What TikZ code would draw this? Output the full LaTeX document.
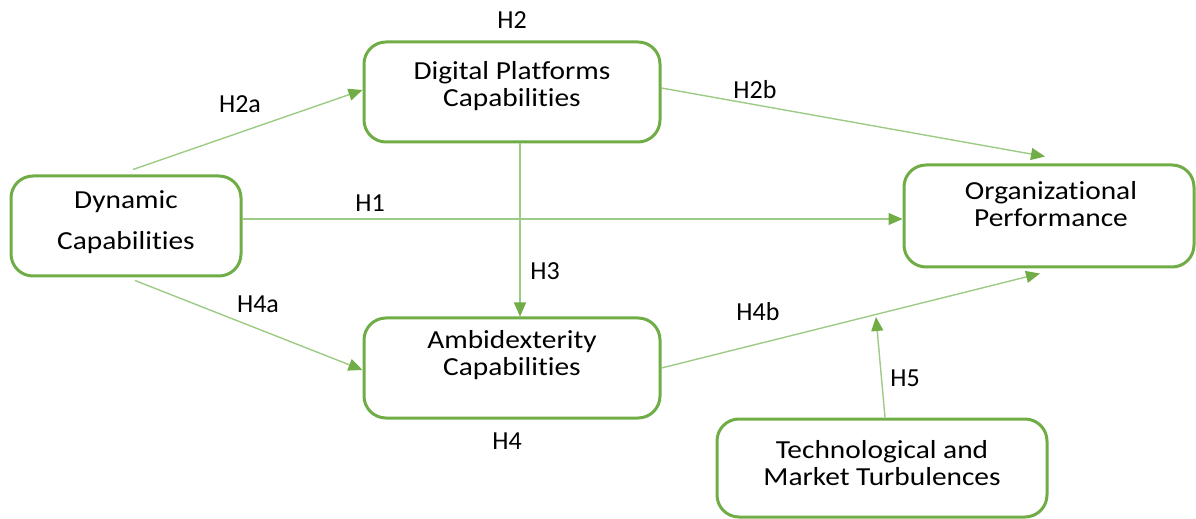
\documentclass[tikz,border=0pt]{standalone}
\usepackage{fontspec}
\setmainfont[Ligatures=NoCommon]{Carlito}
\newfontfamily\boxfont[Ligatures=NoCommon,FakeStretch=1.13]{Carlito}
\usetikzlibrary{arrows.meta,calc}
\definecolor{boxgreen}{HTML}{70AD47}
\definecolor{linegreen}{HTML}{9CCB86}
\begin{document}
\begin{tikzpicture}[x=0.5pt,y=-0.5pt,
  box/.style={draw=boxgreen,line width=1.5pt,rounded corners=11pt,fill=white,inner sep=0pt},
  txt/.style={align=center,font=\boxfont\fontsize{13}{13.5}\selectfont,inner sep=0pt},
  hlab/.style={font=\fontsize{13}{13.5}\selectfont,inner sep=0pt},
  conn/.style={draw=linegreen,line width=0.7pt,-{Triangle[length=7pt,width=6pt,color=boxgreen]}}]
\useasboundingbox (0,0) rectangle (1196,519);
% boxes
\node[box,minimum width=115pt,minimum height=50pt] (dyn) at (126,226) {};
\node[box,minimum width=148pt,minimum height=50pt] (dig) at (512,92) {};
\node[box,minimum width=145pt,minimum height=51pt] (org) at (1049,216) {};
\node[box,minimum width=148pt,minimum height=50pt] (amb) at (512,368) {};
\node[box,minimum width=165pt,minimum height=49pt] (tech) at (882,468) {};
% texts
\node[txt] (dynT) at (126,222) {Dynamic\\[7pt]Capabilities};
\node[txt] (digT) at (512,86) {Digital Platforms\\Capabilities};
\node[txt] (orgT) at (1051,204) {Organizational\\Performance};
\node[txt] (ambT) at (512,355) {Ambidexterity\\Capabilities};
\node[txt] (techT) at (882,463) {Technological and\\Market Turbulences};
% free end
\coordinate (h5end) at (876,317);
% connectors
\draw[conn] ([xshift=3.5pt,yshift=2.5pt]dyn.north) -- ([yshift=1pt]dig.west);
\draw[conn] ([yshift=2pt]dig.east) -- ([xshift=-2pt,yshift=3.5pt]org.north);
\draw[conn] ([yshift=3.5pt]dyn.east) -- ([yshift=-1.5pt]org.west);
\draw[conn] ([xshift=4pt]dig.south) -- ([xshift=4pt]amb.north);
\draw[conn] ([xshift=4.5pt,yshift=-1.5pt]dyn.south) -- ([yshift=-1pt]amb.west);
\draw[conn] (amb.east) -- ([xshift=-4.5pt,yshift=-2.5pt]org.south);
\draw[conn] ([xshift=1.5pt]tech.north) -- (h5end);
% labels
\node[hlab] (lH2) at (512,20) {H2};
\node[hlab] (lH2a) at (240,104) {H2a};
\node[hlab] (lH2b) at (755,90) {H2b};
\node[hlab] (lH1) at (370,203) {H1};
\node[hlab] (lH3) at (545,271) {H3};
\node[hlab] (lH4a) at (258,304) {H4a};
\node[hlab] (lH4b) at (758,312) {H4b};
\node[hlab] (lH5) at (905,378) {H5};
\node[hlab] (lH4) at (507,441) {H4};
\end{tikzpicture}
\end{document}
